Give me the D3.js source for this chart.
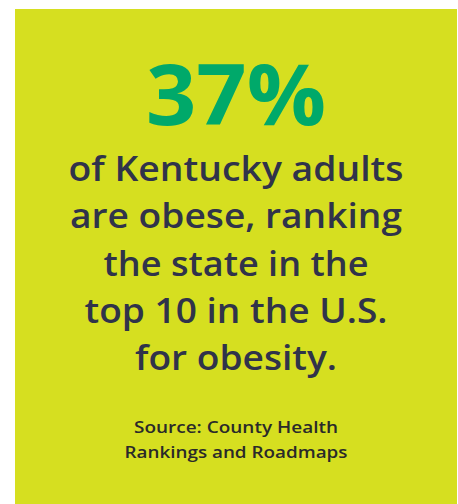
<!DOCTYPE html>
<html>
<head>
<meta charset="utf-8">
<script src="https://cdn.jsdelivr.net/npm/d3@7"></script>
<style>
html,body{margin:0;padding:0;background:#fff;}
svg{display:block;}
</style>
</head>
<body>
<script>
const headlineValue = [37];
const bodyLines = ["of Kentucky adults", "are obese, ranking", "the state in the", "top 10 in the U.S.", "for obesity."];
const sourceLines = ["Source: County Health", "Rankings and Roadmaps"];

const W = 458, H = 504;
const svg = d3.select("body").append("svg").attr("width", W).attr("height", H);

svg.append("rect").attr("x", 15).attr("y", 9).attr("width", 442).attr("height", H - 9).attr("fill", "#d6df20");

const cx = 236;
const fmt = d3.format("d");

svg.selectAll("text.head").data(headlineValue).join("text")
  .attr("class", "head")
  .attr("x", cx).attr("y", 125)
  .attr("text-anchor", "middle")
  .attr("font-family", "'Open Sans', Lato, sans-serif")
  .attr("font-weight", 700)
  .attr("font-size", 85)
  .attr("fill", "#00a96a")
  .attr("textLength", 180).attr("lengthAdjust", "spacingAndGlyphs")
  .text(d => fmt(d) + "%");

const bodyY = d3.scalePoint().domain(d3.range(bodyLines.length)).range([181, 370]);
const bodyW = [335, 332, 265, 303, 202];
svg.selectAll("text.body").data(bodyLines).join("text")
  .attr("class", "body")
  .attr("x", cx).attr("y", (d, i) => bodyY(i))
  .attr("text-anchor", "middle")
  .attr("font-family", "'Open Sans', Lato, sans-serif")
  .attr("font-weight", 600)
  .attr("font-size", 34)
  .attr("fill", "#30334a")
  .attr("textLength", (d, i) => bodyW[i]).attr("lengthAdjust", "spacingAndGlyphs")
  .text(d => d);

const srcY = d3.scalePoint().domain(d3.range(sourceLines.length)).range([433, 458]);
const srcW = [204, 223];
svg.selectAll("text.src").data(sourceLines).join("text")
  .attr("class", "src")
  .attr("x", cx).attr("y", (d, i) => srcY(i))
  .attr("text-anchor", "middle")
  .attr("font-family", "'Open Sans', Lato, sans-serif")
  .attr("font-weight", 600)
  .attr("font-size", 16.5)
  .attr("fill", "#2a2a2a")
  .attr("textLength", (d, i) => srcW[i]).attr("lengthAdjust", "spacingAndGlyphs")
  .text(d => d);
</script>
</body>
</html>
